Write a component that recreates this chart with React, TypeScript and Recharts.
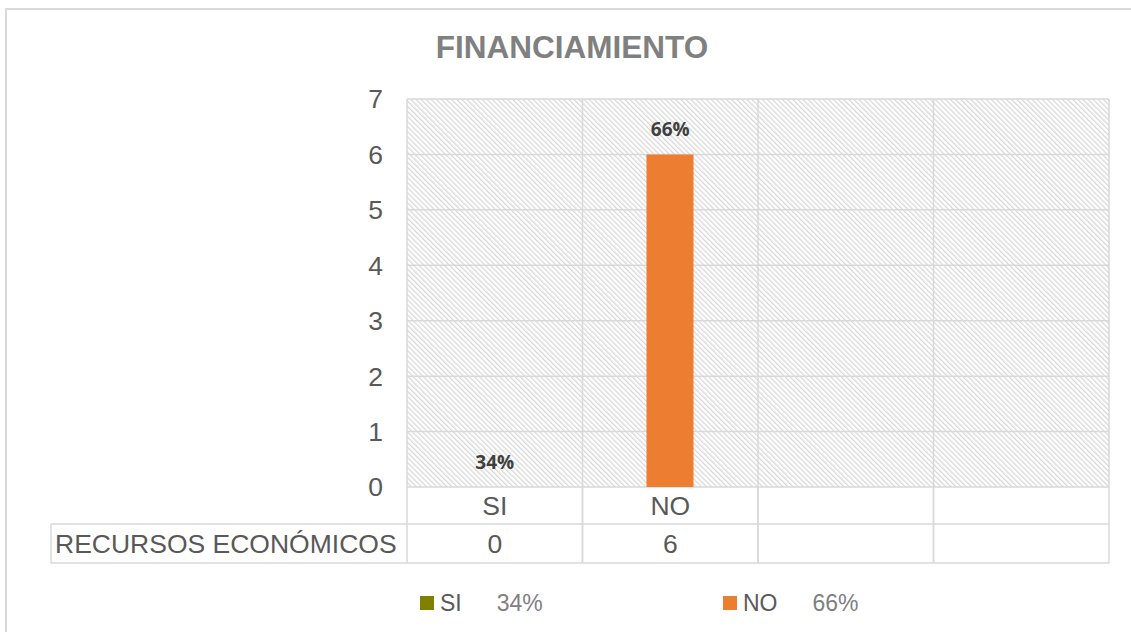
import React from 'react';
import { ComposedChart, Bar, Line, XAxis, YAxis, CartesianGrid, LabelList, Legend, Cell } from 'recharts';

const chartTitle = 'FINANCIAMIENTO';
const seriesName = 'RECURSOS ECONÓMICOS';
const categories = ['SI', 'NO', 'c3', 'c4'];
const categoryLabels = ['SI', 'NO', '', ''];
const recursosValues: (number | null)[] = [0, 6, null, null];
const percentLabels = ['34%', '66%', '', ''];
const categoryColors = ['#7F7F00', '#ED7D31', '#A5A5A5', '#FFC000'];
const yTicks = [0, 1, 2, 3, 4, 5, 6, 7];
const legendNames = ['SI', 'NO'];
const legendPercents = ['34%', '66%'];

const data = categories.map((c, i) => ({
  cat: c,
  value: recursosValues[i],
  pct: percentLabels[i],
}));

const GRID = '#d9d9d9';
const AXIS_FONT = '"Liberation Sans", Arial, sans-serif';

const TableTick = (props: any) => {
  const { x, y, payload } = props;
  const i: number = payload.index ?? props.index ?? 0;
  const half: number = payload.offset ?? 87.75;
  const left = x - half;
  const right = x + half;
  const r1 = y;
  const r2 = y + 37;
  const r3 = y + 76;
  const val = recursosValues[i];
  return (
    <g>
      <line x1={left} x2={left} y1={r1} y2={r3} stroke={GRID} strokeWidth={1.5} />
      <line x1={right} x2={right} y1={r1} y2={r3} stroke={GRID} strokeWidth={1.5} />
      <line x1={left} x2={right} y1={r2} y2={r2} stroke={GRID} strokeWidth={1.5} />
      <line x1={left} x2={right} y1={r3} y2={r3} stroke={GRID} strokeWidth={1.5} />
      <text x={x} y={(r1 + r2) / 2 + 9.5} textAnchor="middle" fontSize={26.5} fontFamily={AXIS_FONT} fill="#595959">
        {categoryLabels[i]}
      </text>
      <text x={x} y={(r2 + r3) / 2 + 9.5} textAnchor="middle" fontSize={26.5} fontFamily={AXIS_FONT} fill="#595959">
        {val === null || val === undefined ? '' : String(val)}
      </text>
      {i === 0 && (
        <g>
          <line x1={left - 356} x2={left} y1={r2} y2={r2} stroke={GRID} strokeWidth={1.5} />
          <line x1={left - 356} x2={left} y1={r3} y2={r3} stroke={GRID} strokeWidth={1.5} />
          <line x1={left - 356} x2={left - 356} y1={r2} y2={r3} stroke={GRID} strokeWidth={1.5} />
          <text x={left - 352} y={(r2 + r3) / 2 + 9.5} textAnchor="start" fontSize={26.5} fontFamily={AXIS_FONT} fill="#595959">
            {seriesName}
          </text>
        </g>
      )}
    </g>
  );
};

const LegendContent = () => (
  <div style={{ display: 'flex', alignItems: 'center', height: 30, paddingLeft: 420, fontFamily: AXIS_FONT, fontSize: 23 }}>
    {legendNames.map((n, i) => (
      <div key={n} style={{ display: 'flex', alignItems: 'center', width: 303 }}>
        <span style={{ display: 'inline-block', width: 14, height: 14, background: categoryColors[i], marginRight: 6 }} />
        <span style={{ color: '#595959' }}>{n}</span>
        <span style={{ color: '#808080', marginLeft: 35 }}>{legendPercents[i]}</span>
      </div>
    ))}
  </div>
);

export default function App() {
  return (
    <div style={{ position: 'absolute', left: 0, top: 0, width: 1131, height: 632, overflow: 'hidden', background: '#fff' }}>
      <div style={{ position: 'absolute', left: 5, top: 8, width: 1300, height: 800, border: `2px solid ${GRID}` }} />
      <div style={{ position: 'absolute', left: 0, top: 0 }}>
        <ComposedChart width={1131} height={632} data={data} margin={{ top: 99, right: 22, left: 0, bottom: 0 }}>
          <defs>
            <pattern id="hatch" patternUnits="userSpaceOnUse" width={3.6} height={3.6} patternTransform="rotate(-45)">
              <rect x={0} y={0} width={1.2} height={3.6} fill="#d6d6d6" />
            </pattern>
          </defs>
          <text x={572} y={58} textAnchor="middle" fontSize={31.5} fontWeight="bold" fontFamily={AXIS_FONT} fill="#808080">
            {chartTitle}
          </text>
          <CartesianGrid
            stroke={GRID}
            strokeWidth={1.5}
            fill="url(#hatch)"
            fillOpacity={1}
            verticalCoordinatesGenerator={({ offset }: any) =>
              [...categories, 'end'].map((_, i) => offset.left + (i * offset.width) / categories.length)
            }
          />
          <XAxis
            dataKey="cat"
            height={145}
            interval={0}
            axisLine={false}
            tickLine={false}
            tickSize={0}
            tickMargin={0}
            tick={<TableTick />}
          />
          <YAxis
            width={407}
            domain={[0, 7]}
            ticks={yTicks}
            interval={0}
            axisLine={false}
            tickLine={false}
            tickSize={0}
            tickMargin={24}
            tick={{ fontSize: 26.5, fontFamily: AXIS_FONT, fill: '#595959' }}
          />
          <Legend
            verticalAlign="middle"
            layout="horizontal"
            align="center"
            wrapperStyle={{ top: 588, left: 0, width: 1131, height: 30 }}
            content={<LegendContent />}
          />
          <Bar dataKey="value" name={seriesName} barSize={47} isAnimationActive={false}>
            {data.map((d, i) => (
              <Cell key={d.cat} fill={categoryColors[i]} />
            ))}
          </Bar>
          <Line
            dataKey="value"
            stroke="none"
            dot={false}
            activeDot={false}
            legendType="none"
            isAnimationActive={false}
          >
            <LabelList
              dataKey="pct"
              position="top"
              offset={18}
              style={{ fontSize: 19, fontWeight: 700, fontFamily: '"Open Sans", sans-serif', fill: '#404040' }}
            />
          </Line>
        </ComposedChart>
      </div>
    </div>
  );
}
